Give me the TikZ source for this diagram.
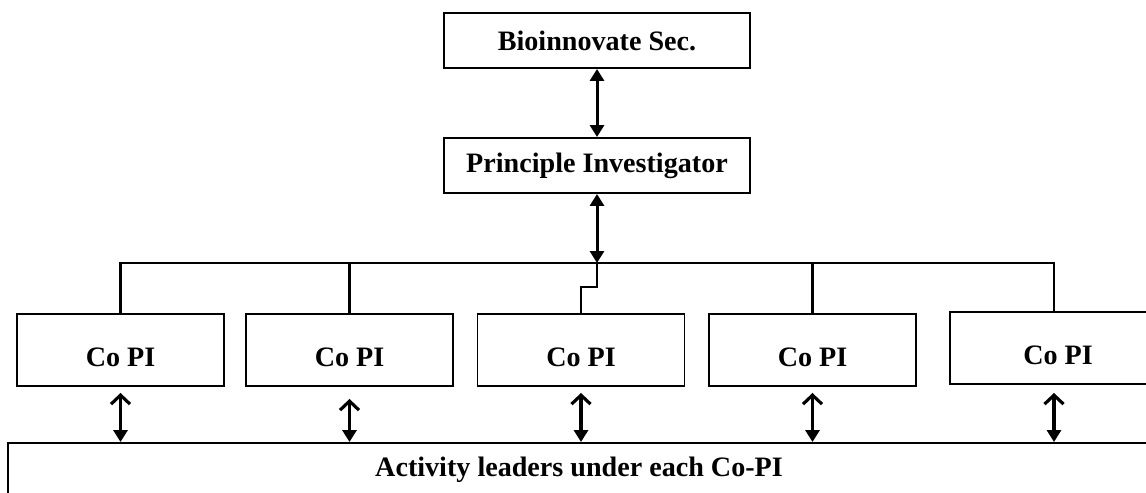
\documentclass[tikz,border=0pt]{standalone}
\usepackage{fontspec}
\setmainfont{Liberation Serif}
\usetikzlibrary{arrows.meta}

\begin{document}
\begin{tikzpicture}[x=0.02cm, y=-0.02cm,
    box/.style={rectangle, draw, line width=1.1pt, inner sep=0pt, font=\fontsize{16}{19}\selectfont\bfseries},
    copi/.style={box, minimum width=4.14cm, minimum height=1.44cm, text height=19pt, text depth=0pt},
    link/.style={line width=1.6pt},
    dblarrow/.style={line width=1.7pt, {Triangle[length=2.4mm,width=2.8mm]}-{Triangle[length=2.4mm,width=2.8mm]}},
    updown/.style={line width=1.8pt, {Straight Barb[length=1.8mm,width=3.8mm,line width=1.8pt]}-{Triangle[length=2.4mm,width=2.8mm]}}]
        \clip (0,0) rectangle (1146,493);

        % Top of the chain
        \node[box, minimum width=6.12cm, minimum height=1.1cm] (sec) at (597,40.5) {Bioinnovate Sec.};
        \node[box, minimum width=6.12cm, minimum height=1.1cm] (pi) at (597,165.5) {Principle Investigator};
        \coordinate (bus) at (597,263);

        % Co PI row
        \foreach \i/\x in {1/120.5, 2/349.5, 3/581, 4/812.5} {
          \node[copi] (co\i) at (\x,350) {Co PI};
        }
        \node[copi, minimum width=4.32cm] (co5) at (1058,348) {Co PI};

        % Activity leaders box (runs off the page)
        \node[box, minimum width=22.84cm, minimum height=1.08cm] (act) at (579,470) {Activity leaders under each Co-PI};

        % Arrows and the bus line
        \draw[dblarrow] (sec) -- (pi);
        \draw[dblarrow] (pi) -- (bus);
        \draw[link] (co1.north) |- (bus) -| ([xshift=-0.08cm]co5.north);
        \draw[link] (co2.north) -- (co2.north |- bus);
        \draw[link] (co4.north) -- (co4.north |- bus);
        \draw[link] (co3.north) -- ++(0,-26) -| (bus);

        % Co PI <-> activity leaders
        \foreach \i/\gap in {1/6, 2/12, 3/6, 4/6} {
          \draw[updown, shorten <=\gap*0.02cm] (co\i.south) -- (co\i.south |- act.north);
        }
        \draw[updown, shorten <=0.16cm] ([xshift=-0.08cm]co5.south) -- ([xshift=-0.08cm]co5.south |- act.north);
      \end{tikzpicture}
\end{document}
